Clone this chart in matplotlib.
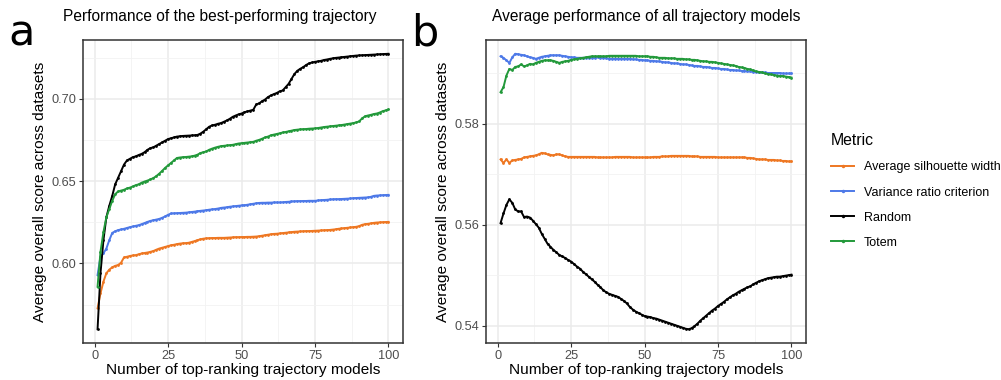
import matplotlib
matplotlib.use("Agg")
import matplotlib.pyplot as plt
from matplotlib.lines import Line2D
import numpy as np

#%%
# Data (x = number of top-ranking trajectory models)

n_models = list(range(1, 101))

metrics = ["Average silhouette width", "Variance ratio criterion", "Random", "Totem"]
colors = ["#EE7722", "#4D79E8", "#000000", "#22993A"]

# panel a: best-performing trajectory
best_asw = [
    0.5727, 0.5818, 0.5889, 0.5940, 0.5962, 0.5976, 0.5985, 0.5990, 0.6004, 0.6036,
    0.6040, 0.6045, 0.6048, 0.6050, 0.6055, 0.6060, 0.6063, 0.6066, 0.6070, 0.6075,
    0.6083, 0.6090, 0.6095, 0.6100, 0.6105, 0.6110, 0.6113, 0.6117, 0.6120, 0.6122,
    0.6123, 0.6125, 0.6130, 0.6135, 0.6141, 0.6146, 0.6150, 0.6152, 0.6153, 0.6154,
    0.6154, 0.6155, 0.6155, 0.6155, 0.6156, 0.6157, 0.6158, 0.6159, 0.6159, 0.6160,
    0.6160, 0.6161, 0.6161, 0.6162, 0.6163, 0.6165, 0.6168, 0.6171, 0.6174, 0.6177,
    0.6179, 0.6180, 0.6182, 0.6184, 0.6186, 0.6188, 0.6190, 0.6192, 0.6193, 0.6194,
    0.6195, 0.6196, 0.6196, 0.6197, 0.6198, 0.6199, 0.6200, 0.6201, 0.6202, 0.6203,
    0.6205, 0.6207, 0.6210, 0.6212, 0.6214, 0.6216, 0.6218, 0.6220, 0.6222, 0.6226,
    0.6234, 0.6238, 0.6240, 0.6243, 0.6246, 0.6248, 0.6249, 0.6250, 0.6251, 0.6252,
]
best_vrc = [
    0.5929, 0.6040, 0.6061, 0.6090, 0.6141, 0.6185, 0.6195, 0.6202, 0.6206, 0.6210,
    0.6215, 0.6220, 0.6224, 0.6228, 0.6232, 0.6238, 0.6245, 0.6252, 0.6258, 0.6262,
    0.6266, 0.6270, 0.6277, 0.6285, 0.6295, 0.6303, 0.6304, 0.6305, 0.6306, 0.6307,
    0.6308, 0.6310, 0.6312, 0.6314, 0.6317, 0.6319, 0.6321, 0.6323, 0.6326, 0.6328,
    0.6330, 0.6333, 0.6337, 0.6339, 0.6341, 0.6344, 0.6346, 0.6348, 0.6350, 0.6352,
    0.6353, 0.6356, 0.6359, 0.6362, 0.6365, 0.6367, 0.6368, 0.6368, 0.6369, 0.6369,
    0.6370, 0.6370, 0.6370, 0.6371, 0.6373, 0.6374, 0.6376, 0.6377, 0.6378, 0.6378,
    0.6379, 0.6379, 0.6380, 0.6380, 0.6380, 0.6382, 0.6384, 0.6385, 0.6386, 0.6388,
    0.6389, 0.6390, 0.6390, 0.6391, 0.6392, 0.6393, 0.6394, 0.6396, 0.6397, 0.6398,
    0.6399, 0.6400, 0.6401, 0.6404, 0.6410, 0.6412, 0.6413, 0.6414, 0.6415, 0.6416,
]
best_random = [
    0.5600, 0.5940, 0.6140, 0.6280, 0.6350, 0.6410, 0.6480, 0.6520, 0.6560, 0.6600,
    0.6625, 0.6635, 0.6645, 0.6650, 0.6658, 0.6665, 0.6675, 0.6690, 0.6700, 0.6705,
    0.6715, 0.6725, 0.6735, 0.6745, 0.6755, 0.6760, 0.6765, 0.6770, 0.6772, 0.6774,
    0.6775, 0.6776, 0.6777, 0.6778, 0.6780, 0.6788, 0.6800, 0.6815, 0.6830, 0.6838,
    0.6842, 0.6848, 0.6852, 0.6860, 0.6868, 0.6878, 0.6890, 0.6898, 0.6905, 0.6910,
    0.6918, 0.6923, 0.6928, 0.6933, 0.6965, 0.6972, 0.6985, 0.6995, 0.7010, 0.7020,
    0.7028, 0.7035, 0.7045, 0.7050, 0.7070, 0.7090, 0.7120, 0.7150, 0.7170, 0.7182,
    0.7192, 0.7205, 0.7215, 0.7220, 0.7224, 0.7227, 0.7230, 0.7235, 0.7238, 0.7242,
    0.7245, 0.7248, 0.7250, 0.7252, 0.7254, 0.7256, 0.7258, 0.7260, 0.7262, 0.7263,
    0.7264, 0.7265, 0.7266, 0.7267, 0.7268, 0.7269, 0.7270, 0.7271, 0.7272, 0.7273,
]
best_totem = [
    0.5858, 0.6070, 0.6190, 0.6280, 0.6330, 0.6380, 0.6420, 0.6437, 0.6442, 0.6447,
    0.6455, 0.6460, 0.6467, 0.6475, 0.6480, 0.6490, 0.6497, 0.6503, 0.6510, 0.6518,
    0.6530, 0.6545, 0.6562, 0.6580, 0.6595, 0.6610, 0.6625, 0.6640, 0.6643, 0.6645,
    0.6646, 0.6648, 0.6650, 0.6654, 0.6660, 0.6670, 0.6675, 0.6680, 0.6690, 0.6697,
    0.6703, 0.6708, 0.6712, 0.6714, 0.6716, 0.6718, 0.6720, 0.6724, 0.6728, 0.6730,
    0.6732, 0.6734, 0.6736, 0.6738, 0.6745, 0.6750, 0.6757, 0.6765, 0.6770, 0.6778,
    0.6782, 0.6786, 0.6790, 0.6795, 0.6798, 0.6802, 0.6806, 0.6810, 0.6812, 0.6814,
    0.6815, 0.6816, 0.6818, 0.6819, 0.6820, 0.6822, 0.6825, 0.6828, 0.6830, 0.6832,
    0.6834, 0.6836, 0.6838, 0.6840, 0.6843, 0.6846, 0.6849, 0.6852, 0.6856, 0.6862,
    0.6880, 0.6893, 0.6898, 0.6902, 0.6907, 0.6910, 0.6916, 0.6924, 0.6929, 0.6935,
]

# panel b: average of all trajectory models
avg_asw = [
    0.5729, 0.5722, 0.5729, 0.5722, 0.5727, 0.5728, 0.5729, 0.5730, 0.5733, 0.5734,
    0.5735, 0.5736, 0.5737, 0.5739, 0.5742, 0.5741, 0.5739, 0.5738, 0.5737, 0.5739,
    0.5739, 0.5737, 0.5735, 0.5734, 0.5734, 0.5734, 0.5734, 0.5734, 0.5734, 0.5734,
    0.5734, 0.5734, 0.5734, 0.5733, 0.5733, 0.5733, 0.5733, 0.5733, 0.5733, 0.5734,
    0.5734, 0.5734, 0.5734, 0.5734, 0.5734, 0.5733, 0.5733, 0.5733, 0.5733, 0.5733,
    0.5733, 0.5733, 0.5734, 0.5734, 0.5734, 0.5735, 0.5735, 0.5735, 0.5736, 0.5736,
    0.5736, 0.5736, 0.5736, 0.5736, 0.5736, 0.5735, 0.5735, 0.5735, 0.5734, 0.5734,
    0.5734, 0.5734, 0.5734, 0.5734, 0.5733, 0.5733, 0.5733, 0.5733, 0.5733, 0.5733,
    0.5733, 0.5733, 0.5733, 0.5733, 0.5732, 0.5732, 0.5731, 0.5730, 0.5729, 0.5729,
    0.5729, 0.5728, 0.5728, 0.5728, 0.5727, 0.5727, 0.5726, 0.5726, 0.5725, 0.5725,
]
avg_vrc = [
    0.5933, 0.5930, 0.5925, 0.5920, 0.5931, 0.5938, 0.5937, 0.5936, 0.5935, 0.5933,
    0.5931, 0.5930, 0.5928, 0.5930, 0.5932, 0.5933, 0.5934, 0.5935, 0.5935, 0.5935,
    0.5935, 0.5934, 0.5933, 0.5932, 0.5931, 0.5931, 0.5930, 0.5930, 0.5930, 0.5930,
    0.5930, 0.5930, 0.5930, 0.5931, 0.5930, 0.5930, 0.5929, 0.5928, 0.5928, 0.5928,
    0.5928, 0.5928, 0.5928, 0.5928, 0.5928, 0.5927, 0.5927, 0.5926, 0.5926, 0.5925,
    0.5925, 0.5924, 0.5924, 0.5923, 0.5923, 0.5922, 0.5921, 0.5921, 0.5920, 0.5919,
    0.5919, 0.5918, 0.5917, 0.5917, 0.5916, 0.5915, 0.5914, 0.5914, 0.5913, 0.5912,
    0.5912, 0.5911, 0.5910, 0.5910, 0.5909, 0.5908, 0.5908, 0.5907, 0.5906, 0.5906,
    0.5905, 0.5905, 0.5904, 0.5904, 0.5903, 0.5903, 0.5902, 0.5902, 0.5901, 0.5901,
    0.5901, 0.5900, 0.5900, 0.5900, 0.5900, 0.5900, 0.5899, 0.5899, 0.5899, 0.5899,
]
avg_random = [
    0.5603, 0.5622, 0.5639, 0.5650, 0.5643, 0.5630, 0.5626, 0.5626, 0.5615, 0.5616,
    0.5614, 0.5608, 0.5601, 0.5594, 0.5582, 0.5572, 0.5562, 0.5556, 0.5550, 0.5545,
    0.5540, 0.5537, 0.5534, 0.5530, 0.5527, 0.5522, 0.5517, 0.5513, 0.5507, 0.5502,
    0.5497, 0.5492, 0.5487, 0.5481, 0.5476, 0.5470, 0.5466, 0.5463, 0.5461, 0.5459,
    0.5457, 0.5453, 0.5449, 0.5444, 0.5437, 0.5432, 0.5428, 0.5425, 0.5422, 0.5419,
    0.5418, 0.5417, 0.5415, 0.5414, 0.5412, 0.5410, 0.5408, 0.5406, 0.5404, 0.5402,
    0.5400, 0.5398, 0.5396, 0.5394, 0.5393, 0.5395, 0.5399, 0.5404, 0.5410, 0.5415,
    0.5420, 0.5425, 0.5430, 0.5434, 0.5439, 0.5443, 0.5447, 0.5452, 0.5456, 0.5460,
    0.5463, 0.5467, 0.5470, 0.5473, 0.5476, 0.5478, 0.5482, 0.5485, 0.5488, 0.5490,
    0.5492, 0.5494, 0.5495, 0.5496, 0.5497, 0.5497, 0.5498, 0.5499, 0.5500, 0.5501,
]
avg_totem = [
    0.5862, 0.5872, 0.5895, 0.5908, 0.5906, 0.5912, 0.5913, 0.5917, 0.5913, 0.5915,
    0.5918, 0.5917, 0.5920, 0.5922, 0.5924, 0.5925, 0.5925, 0.5925, 0.5924, 0.5922,
    0.5920, 0.5922, 0.5923, 0.5924, 0.5926, 0.5927, 0.5928, 0.5929, 0.5930, 0.5931,
    0.5932, 0.5933, 0.5933, 0.5933, 0.5933, 0.5933, 0.5933, 0.5934, 0.5934, 0.5934,
    0.5934, 0.5934, 0.5934, 0.5934, 0.5934, 0.5934, 0.5934, 0.5933, 0.5933, 0.5933,
    0.5933, 0.5932, 0.5932, 0.5931, 0.5930, 0.5930, 0.5930, 0.5929, 0.5929, 0.5929,
    0.5928, 0.5928, 0.5928, 0.5927, 0.5927, 0.5926, 0.5926, 0.5925, 0.5924, 0.5923,
    0.5923, 0.5922, 0.5922, 0.5921, 0.5920, 0.5919, 0.5918, 0.5917, 0.5916, 0.5915,
    0.5914, 0.5912, 0.5911, 0.5910, 0.5908, 0.5907, 0.5905, 0.5903, 0.5902, 0.5901,
    0.5899, 0.5898, 0.5897, 0.5896, 0.5895, 0.5894, 0.5894, 0.5893, 0.5892, 0.5891,
]

#%%
# Plot

plt.rcParams['font.family'] = ['Liberation Sans', 'DejaVu Sans']

fig = plt.figure(figsize=(10.01, 3.8), dpi=100)
ax_a = fig.add_axes([83 / 1001, 37 / 380, 320 / 1001, 303 / 380])
ax_b = fig.add_axes([486 / 1001, 37 / 380, 320 / 1001, 303 / 380])


def style_axis(ax, series, yticks, yminor, title, title_x):
    x = np.array(n_models)
    for vals, col in zip(series, colors):
        ax.plot(x, vals, color=col, lw=1.4, marker='o', ms=2.0, mew=0, zorder=3)
    lo = min(min(s) for s in series)
    hi = max(max(s) for s in series)
    pad = (hi - lo) * 0.05
    ax.set_ylim(lo - pad, hi + pad)
    ax.set_xlim(1 - 99 * 0.05, 100 + 99 * 0.05)
    ax.set_xticks([0, 25, 50, 75, 100])
    ax.set_xticks([12.5, 37.5, 62.5, 87.5], minor=True)
    ax.set_yticks(yticks)
    ax.set_yticks(yminor, minor=True)
    ax.grid(which='major', color='#EBEBEB', lw=1.1, zorder=0)
    ax.grid(which='minor', color='#F2F2F2', lw=0.6, zorder=0)
    ax.tick_params(which='major', length=3, width=0.8, color='#333333',
                   labelcolor='#4D4D4D', labelsize=9.2, pad=2)
    ax.tick_params(which='minor', length=0)
    for sp in ax.spines.values():
        sp.set_color('#333333')
        sp.set_linewidth(1.1)
    ax.set_axisbelow(True)
    ax.set_xlabel("Number of top-ranking trajectory models", fontsize=11.1, labelpad=1)
    ax.set_ylabel("Average overall score across datasets", fontsize=11.1, labelpad=3)
    fig.text(title_x / 1001, 1 - 17 / 380, title, ha='center', va='center', fontsize=11.2)


style_axis(ax_a, [best_asw, best_vrc, best_random, best_totem],
           [0.60, 0.65, 0.70], [0.575, 0.625, 0.675, 0.725],
           "Performance of the best-performing trajectory", 220)
ax_a.set_yticklabels(["0.60", "0.65", "0.70"])
style_axis(ax_b, [avg_asw, avg_vrc, avg_random, avg_totem],
           [0.54, 0.56, 0.58], [0.55, 0.57, 0.59],
           "Average performance of all trajectory models", 646)
ax_b.set_yticklabels(["0.54", "0.56", "0.58"])

fig.text(8 / 1001, 1 - 46 / 380, "a", fontsize=31, family='DejaVu Sans', va='baseline')
fig.text(411 / 1001, 1 - 46 / 380, "b", fontsize=31, family='DejaVu Sans', va='baseline')

# legend
handles = [Line2D([0], [0], color=c, lw=1.4, marker='o', ms=2.5, mew=0) for c in colors]
fig.legend(handles, metrics, title="Metric", loc='upper left',
           bbox_to_anchor=(820 / 1001, 1 - 122 / 380), frameon=False,
           fontsize=9, title_fontsize=11.4, handlelength=1.8, handletextpad=0.8,
           labelspacing=1.05, alignment='left')

fig.savefig("out.png", dpi=100)
